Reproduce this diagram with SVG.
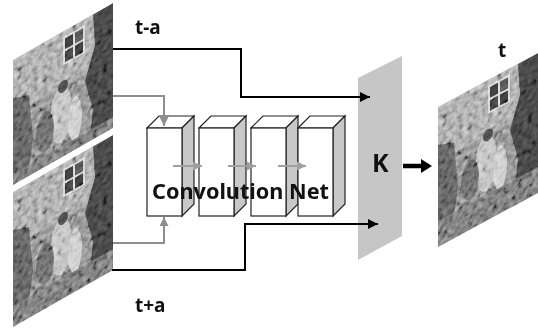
<svg xmlns="http://www.w3.org/2000/svg" width="538" height="328" viewBox="0 0 538 328">
<style>
.lbl{font-family:"Noto Sans","Liberation Sans",sans-serif;font-weight:bold;fill:#111}
.blk{fill:none;stroke:#000;stroke-width:2}
.gry{fill:none;stroke:#8e8e8e;stroke-width:2}
.front{fill:#fff;stroke:#222;stroke-width:1.2}
.side{fill:#c8c8c8;stroke:#222;stroke-width:1.2}
.top{fill:#fff;stroke:#222;stroke-width:1.2}
.inner{fill:none;stroke:#a0a0a0;stroke-width:2}
</style>
<defs>
<marker id="ab" viewBox="0 0 10 10" refX="10" refY="5" markerWidth="5" markerHeight="5" orient="auto" markerUnits="strokeWidth"><path d="M0,0 L10,5 L0,10 z" fill="#000"/></marker>
<marker id="ag" viewBox="0 0 10 10" refX="10" refY="5" markerWidth="4.5" markerHeight="4.5" orient="auto" markerUnits="strokeWidth"><path d="M0,0 L10,5 L0,10 z" fill="#8e8e8e"/></marker>
<marker id="ai" viewBox="0 0 10 10" refX="10" refY="5" markerWidth="4.5" markerHeight="4.5" orient="auto" markerUnits="strokeWidth"><path d="M0,0 L10,5 L0,10 z" fill="#a0a0a0"/></marker>
<filter id="nz" x="0" y="0" width="1" height="1">
<feTurbulence type="fractalNoise" baseFrequency="0.2" numOctaves="3" seed="7"/>
<feColorMatrix type="matrix" values="0.33 0.33 0.33 0 0  0.33 0.33 0.33 0 0  0.33 0.33 0.33 0 0  0 0 0 0 1"/>
<feComponentTransfer><feFuncR type="linear" slope="3" intercept="-1"/><feFuncG type="linear" slope="3" intercept="-1"/><feFuncB type="linear" slope="3" intercept="-1"/></feComponentTransfer>
</filter>
<g id="scene">
<rect x="0" y="0" width="100" height="145" fill="#7c7c7c"/>
<rect x="0" y="0" width="100" height="55" fill="#9a9a9a"/>
<rect x="50" y="6" width="22" height="28" fill="#d4d4d4"/>
<rect x="52" y="8" width="8" height="11" fill="#333"/>
<rect x="62" y="8" width="8" height="11" fill="#4a4a4a"/>
<rect x="52" y="21" width="8" height="11" fill="#3c3c3c"/>
<rect x="62" y="21" width="8" height="11" fill="#333"/>
<path d="M80,0 L100,0 L100,145 L74,145 L80,95 L72,62 L82,32 z" fill="#3c3c3c"/>
<path d="M0,38 L16,44 L20,90 L12,145 L0,145 z" fill="#555"/>
<ellipse cx="48" cy="82" rx="11" ry="28" fill="#b4b4b4"/>
<ellipse cx="62" cy="94" rx="7" ry="22" fill="#c2c2c2"/>
<ellipse cx="32" cy="90" rx="9" ry="20" fill="#5e5e5e"/>
<ellipse cx="50" cy="55" rx="5" ry="6" fill="#444"/>
<rect x="0" y="114" width="100" height="31" fill="#6a6a6a"/>
<rect x="0" y="0" width="100" height="145" filter="url(#nz)" opacity="0.55" style="mix-blend-mode:overlay"/>
</g>
<clipPath id="c125"><rect x="0" y="0" width="100" height="125"/></clipPath>
<clipPath id="c135"><rect x="0" y="0" width="100" height="135"/></clipPath>
<clipPath id="c140"><rect x="0" y="0" width="100" height="140"/></clipPath>
</defs>

<g id="frame-t-minus-a" transform="matrix(1,-0.57,0,1,13,60)">
<g clip-path="url(#c125)" style="isolation:isolate"><use href="#scene"/></g>
</g>
<g id="frame-t-plus-a" transform="matrix(1,-0.57,0,1,13,192)">
<g clip-path="url(#c135)" style="isolation:isolate"><use href="#scene"/></g>
</g>
<g id="frame-t" transform="matrix(1,-0.54,0,1,438,107)">
<g clip-path="url(#c140)" style="isolation:isolate"><use href="#scene"/></g>
</g>

<g id="kernel-panel">
<polygon points="358,78 402,56 402,236 358,260" fill="#c6c6c6"/>
<text x="372" y="172" font-family="Noto Sans, Liberation Sans, sans-serif" font-size="25" font-weight="bold" fill="#111">K</text>
</g>

<g id="convnet">
<polygon class="top" points="147,128 159,116 194,116 182,128"/>
<polygon class="side" points="182,128 194,116 194,204 182,216"/>
<rect class="front" x="147" y="128" width="35" height="88"/>
<polygon class="top" points="199,128 211,116 246,116 234,128"/>
<polygon class="side" points="234,128 246,116 246,204 234,216"/>
<rect class="front" x="199" y="128" width="35" height="88"/>
<polygon class="top" points="251,128 263,116 298,116 286,128"/>
<polygon class="side" points="286,128 298,116 298,204 286,216"/>
<rect class="front" x="251" y="128" width="35" height="88"/>
<polygon class="top" points="298,128 310,116 345,116 333,128"/>
<polygon class="side" points="333,128 345,116 345,204 333,216"/>
<rect class="front" x="298" y="128" width="35" height="88"/>
<path class="inner" d="M173,166 H202" marker-end="url(#ai)"/>
<path class="inner" d="M228,166 H256" marker-end="url(#ai)"/>
<path class="inner" d="M278,166 H306" marker-end="url(#ai)"/>
<text class="lbl" x="152" y="199" font-size="22" textLength="177" lengthAdjust="spacingAndGlyphs">Convolution Net</text>
</g>

<g id="connectors">
<path class="blk" d="M113,49 H241 V97 H370" marker-end="url(#ab)"/>
<path class="blk" d="M112,270 H245 V224 H378" marker-end="url(#ab)"/>
<path class="gry" d="M113,96 H164 V126" marker-end="url(#ag)"/>
<path class="gry" d="M113,243 H164 V217" marker-end="url(#ag)"/>
<line x1="403" y1="166" x2="422" y2="166" stroke="#000" stroke-width="4.5"/>
<polygon points="421,159 432,166 421,173" fill="#000"/>
</g>

<g id="labels">
<text class="lbl" x="135" y="34" font-size="19">t-a</text>
<text class="lbl" x="135" y="312" font-size="19">t+a</text>
<text class="lbl" x="498" y="57" font-size="19">t</text>
</g>
</svg>
